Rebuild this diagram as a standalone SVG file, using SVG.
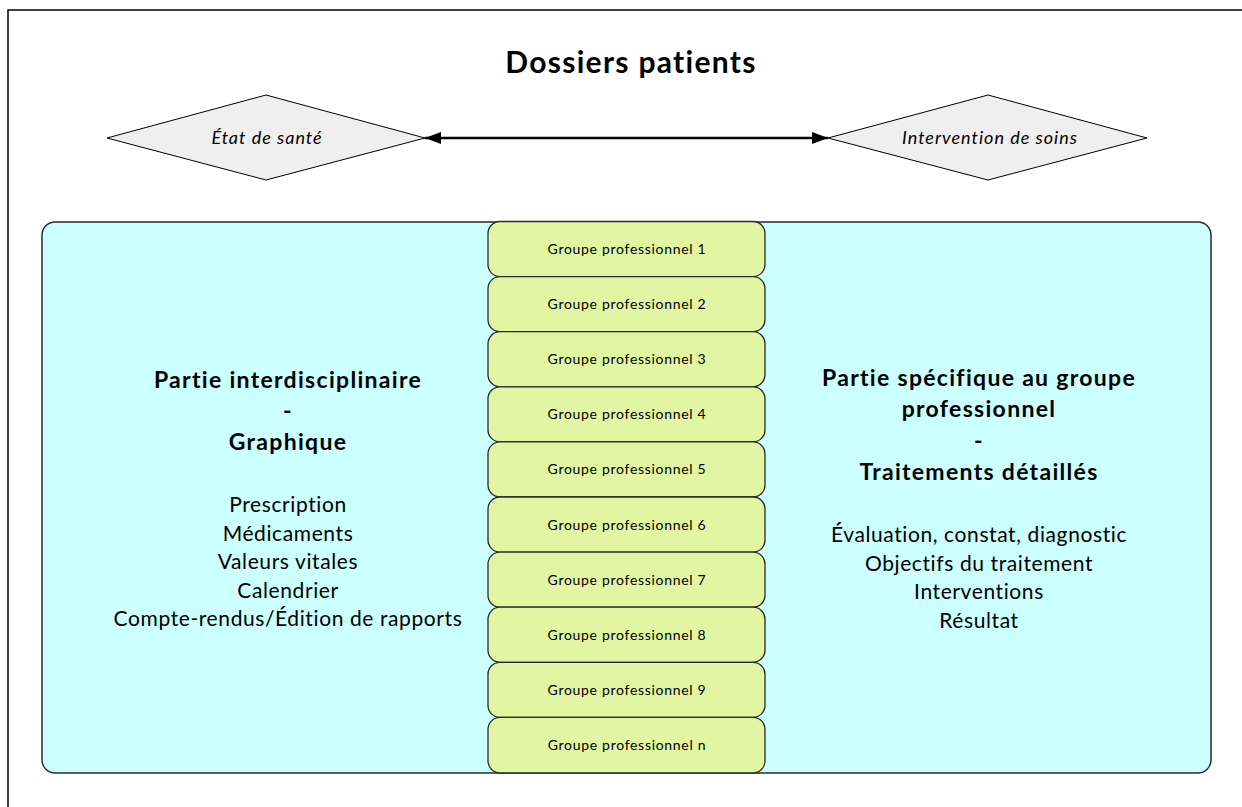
<svg xmlns="http://www.w3.org/2000/svg" width="1242" height="807" viewBox="0 0 1242 807">
  <defs>
    <style>
      text { font-family: Lato, "Liberation Sans", sans-serif; fill: #000; text-anchor: middle; }
      .title { font-size: 30px; font-weight: bold; letter-spacing: 1.3px; }
      .diamond { fill: #efefef; stroke: #000; stroke-width: 1; }
      .dlabel { font-size: 18px; font-style: italic; letter-spacing: 1px; }
      .panel { fill: #ccffff; stroke: #2a2a2a; stroke-width: 1.5; }
      .group { fill: #e1f5a3; stroke: #2a2a2a; stroke-width: 1.3; }
      .glabel { font-size: 14px; letter-spacing: 0.7px; }
      .head { font-size: 23px; font-weight: bold; letter-spacing: 1.3px; }
      .item { font-size: 21px; letter-spacing: 0.6px; }
      .link { stroke: #000; stroke-width: 2.5; fill: none; }
    </style>
    <marker id="arrow" viewBox="0 0 16 12" refX="16" refY="6" markerWidth="16" markerHeight="12" markerUnits="userSpaceOnUse" orient="auto-start-reverse">
      <path d="M0,0 L16,6 L0,12 Z" fill="#000"/>
    </marker>
  </defs>

  <rect width="1242" height="807" fill="#fff"/>
  <!-- page frame -->
  <path d="M8,807 V10 H1242" fill="none" stroke="#000" stroke-width="1.5"/>

  <text class="title" x="631" y="73">Dossiers patients</text>

  <g id="etat-sante">
    <polygon class="diamond" points="107,138 266,95 425,138 266,180"/>
    <text class="dlabel" x="267" y="144">État de santé</text>
  </g>

  <g id="intervention-soins">
    <polygon class="diamond" points="828,138 988,95 1147,138 988,180"/>
    <text class="dlabel" x="990" y="144">Intervention de soins</text>
  </g>

  <g id="connectors">
    <line class="link" x1="425" y1="138" x2="828" y2="138" marker-start="url(#arrow)" marker-end="url(#arrow)"/>
  </g>

  <g id="dossier">
    <rect class="panel" x="42" y="222" width="1169" height="551" rx="13" ry="13"/>

    <g id="partie-interdisciplinaire">
      <text class="head" x="288" y="388">Partie interdisciplinaire</text>
      <text class="head" x="288" y="419">-</text>
      <text class="head" x="288" y="450">Graphique</text>
      <text class="item" x="288" y="512">Prescription</text>
      <text class="item" x="288" y="540.5">Médicaments</text>
      <text class="item" x="288" y="569">Valeurs vitales</text>
      <text class="item" x="288" y="597.5">Calendrier</text>
      <text class="item" x="288" y="626">Compte-rendus/Édition de rapports</text>
    </g>

    <g id="partie-specifique">
      <text class="head" x="979" y="386">Partie spécifique au groupe</text>
      <text class="head" x="979" y="417">professionnel</text>
      <text class="head" x="979" y="449">-</text>
      <text class="head" x="979" y="480">Traitements détaillés</text>
      <text class="item" x="979" y="542">Évaluation, constat, diagnostic</text>
      <text class="item" x="979" y="570.5">Objectifs du traitement</text>
      <text class="item" x="979" y="599">Interventions</text>
      <text class="item" x="979" y="627.5">Résultat</text>
    </g>

    <g id="groupe-1"><rect class="group" x="488" y="221.5" width="277" height="55.1" rx="12"/><text class="glabel" x="627" y="254">Groupe professionnel 1</text></g>
    <g id="groupe-2"><rect class="group" x="488" y="276.6" width="277" height="55.1" rx="12"/><text class="glabel" x="627" y="309">Groupe professionnel 2</text></g>
    <g id="groupe-3"><rect class="group" x="488" y="331.7" width="277" height="55.1" rx="12"/><text class="glabel" x="627" y="364">Groupe professionnel 3</text></g>
    <g id="groupe-4"><rect class="group" x="488" y="386.8" width="277" height="55.1" rx="12"/><text class="glabel" x="627" y="419">Groupe professionnel 4</text></g>
    <g id="groupe-5"><rect class="group" x="488" y="441.9" width="277" height="55.1" rx="12"/><text class="glabel" x="627" y="474">Groupe professionnel 5</text></g>
    <g id="groupe-6"><rect class="group" x="488" y="497.0" width="277" height="55.1" rx="12"/><text class="glabel" x="627" y="529.5">Groupe professionnel 6</text></g>
    <g id="groupe-7"><rect class="group" x="488" y="552.1" width="277" height="55.1" rx="12"/><text class="glabel" x="627" y="584.5">Groupe professionnel 7</text></g>
    <g id="groupe-8"><rect class="group" x="488" y="607.2" width="277" height="55.1" rx="12"/><text class="glabel" x="627" y="639.5">Groupe professionnel 8</text></g>
    <g id="groupe-9"><rect class="group" x="488" y="662.3" width="277" height="55.1" rx="12"/><text class="glabel" x="627" y="694.5">Groupe professionnel 9</text></g>
    <g id="groupe-n"><rect class="group" x="488" y="717.4" width="277" height="55.6" rx="12"/><text class="glabel" x="627" y="750">Groupe professionnel n</text></g>
  </g>
</svg>
